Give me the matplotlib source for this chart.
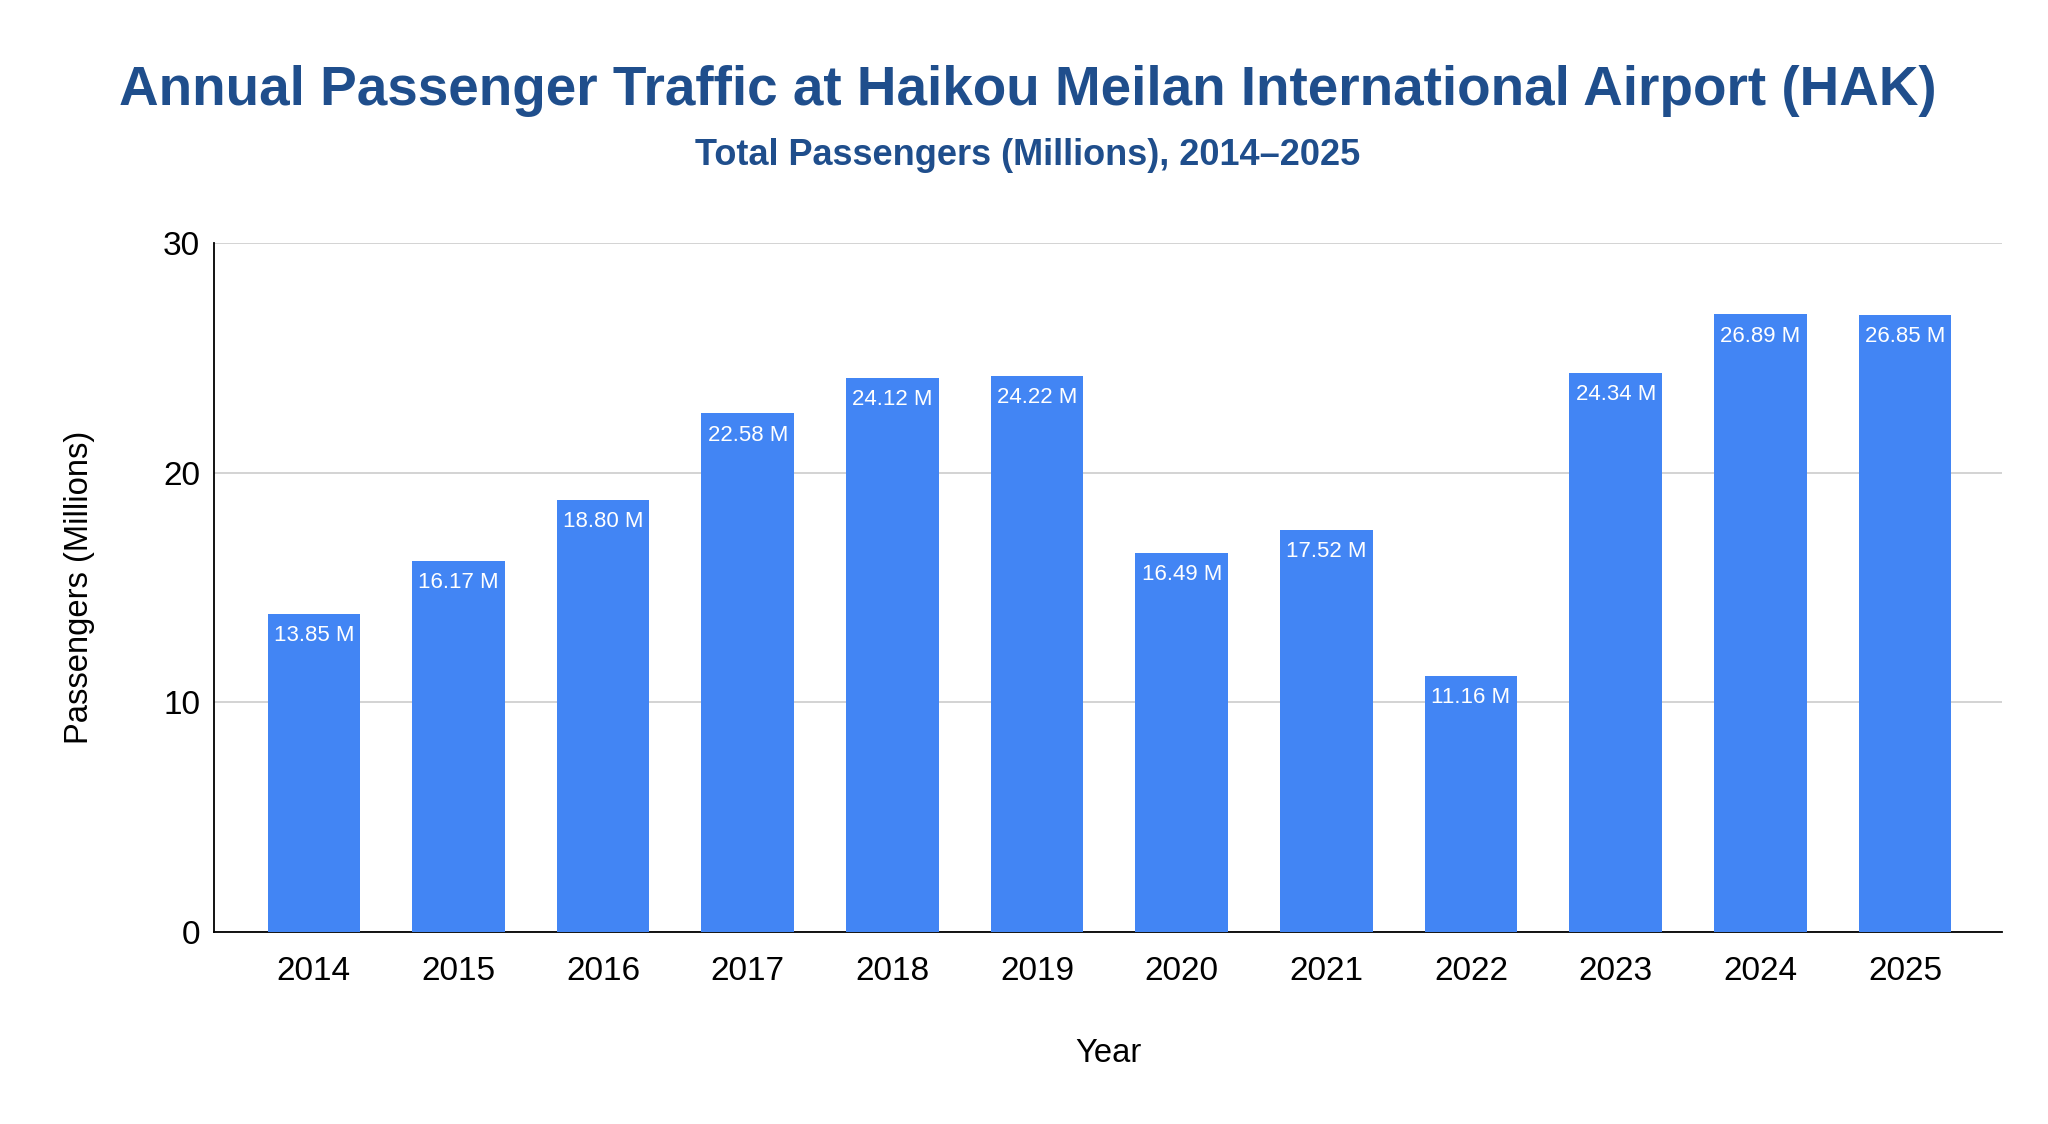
import numpy as np
import matplotlib
matplotlib.use("Agg")
import matplotlib.pyplot as plt

years = ["2014", "2015", "2016", "2017", "2018", "2019",
         "2020", "2021", "2022", "2023", "2024", "2025"]
passengers = [13.85, 16.17, 18.80, 22.58, 24.12, 24.22,
              16.49, 17.52, 11.16, 24.34, 26.89, 26.85]
yticks = [0, 10, 20, 30]

plt.rcParams['font.family'] = ['Liberation Sans', 'DejaVu Sans']

fig = plt.figure(figsize=(20.48, 11.24), dpi=100)
ax = fig.add_axes([0.1045, 0.1708, 0.873, 0.613])

x = np.arange(len(years))
bars = ax.bar(x, passengers, width=0.64, color="#4285F4", zorder=3)

# etiquetas dentro de cada barra
for xi, v in zip(x, passengers):
    ax.annotate(f"{v:.2f} M", (xi, v), xytext=(0, -8), textcoords="offset points",
                ha="center", va="top", color="white", fontsize=16, zorder=4)

ax.set_xlim(-0.69, len(years) - 1 + 0.67)
ax.set_ylim(0, 30)
ax.set_yticks(yticks)
ax.set_xticks(x)
ax.set_xticklabels(years)
ax.tick_params(axis="both", length=0, labelsize=24)
ax.tick_params(axis="x", pad=17)
ax.tick_params(axis="y", pad=10)
ax.grid(axis="y", color="#cccccc", lw=1.2, zorder=0)
for s in ["top", "right"]:
    ax.spines[s].set_visible(False)
ax.spines["left"].set_color("#000000")
ax.spines["bottom"].set_color("#000000")
ax.spines["left"].set_linewidth(1.3)
ax.spines["bottom"].set_linewidth(1.3)

fig.text(0.0386, 0.1708 + 0.613 / 2, "Passengers (Millions)", rotation=90,
         ha="center", va="center", fontsize=23.6)
fig.text(0.1045 + 0.873 / 2, 0.0623, "Year", ha="center", va="center", fontsize=23.6)

fig.text(0.502, 0.919, "Annual Passenger Traffic at Haikou Meilan International Airport (HAK)",
         ha="center", va="center", fontsize=39.5, fontweight="bold", color="#1F4E8C")
fig.text(0.502, 0.862, "Total Passengers (Millions), 2014–2025",
         ha="center", va="center", fontsize=26, fontweight="bold", color="#1F4E8C")

fig.savefig("out.png", dpi=100, facecolor="white")
